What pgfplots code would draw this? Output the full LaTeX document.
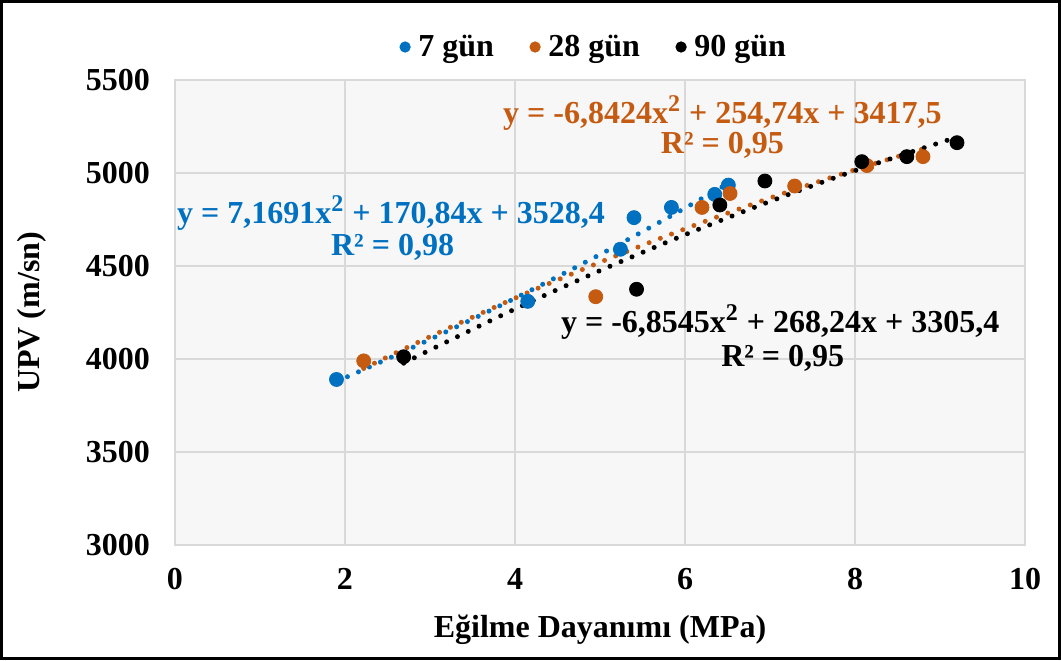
\documentclass[border=0pt]{standalone}
\usepackage{pgfplots}
\pgfplotsset{compat=1.18}
\usepackage{fontspec}
\setmainfont{Liberation Serif}
\definecolor{cblue}{HTML}{0070C0}
\definecolor{corange}{HTML}{C55A11}
\definecolor{gridc}{HTML}{D9D9D9}
\definecolor{bgc}{HTML}{F7F7F7}
\newcommand{\lblfont}{\bfseries\fontsize{16}{18}\selectfont}
\begin{document}
\begin{tikzpicture}
\path[use as bounding box] (-87.5pt,-57.5pt) rectangle (443pt,272.5pt);
\draw[line width=1.5pt] (-86.5pt,-56.5pt) rectangle (442pt,271.5pt);
\begin{axis}[
    scale only axis,
    width=425pt, height=232.5pt,
    xmin=0, xmax=10, ymin=3000, ymax=5500,
    xtick={0,2,...,10}, ytick={3000,3500,...,5500},
    grid=major, grid style={gridc, line width=0.8pt},
    axis line style={gridc, line width=0.8pt},
    major tick length=0pt,
    axis background/.style={fill=bgc},
    ticklabel style={font=\lblfont},
    yticklabel style={xshift=-9pt},
    xticklabel style={yshift=-8pt},
    /pgf/number format/assume math mode=true,
    /pgf/number format/1000 sep={},
    xlabel={Eğilme Dayanımı (MPa)},
    ylabel={UPV (m/sn)},
    label style={font=\lblfont},
    xlabel style={at={(axis description cs:0.5,-0.183)}, anchor=center},
    ylabel style={at={(axis description cs:-0.168,0.5)}, anchor=center},
    legend image post style={mark size=2.6pt},
    legend style={at={(0.494,1)}, anchor=center, yshift=16.5pt, legend columns=3,
        draw=none, fill=none, font=\lblfont,
        /tikz/every odd column/.append style={column sep=2pt},
        /tikz/every even column/.append style={column sep=16pt}},
]
\addplot[only marks, mark=*, mark size=3.5pt, color=cblue] coordinates {
    (1.90,3890) (4.15,4310) (5.24,4590) (5.40,4760) (5.84,4815) (6.35,4885) (6.51,4935)
};
\addlegendentry{7 gün}
\addplot[only marks, mark=*, mark size=3.5pt, color=corange] coordinates {
    (2.22,3990) (4.95,4335) (6.20,4815) (6.53,4890) (7.29,4930) (8.14,5040) (8.80,5088)
};
\addlegendentry{28 gün}
\addplot[only marks, mark=*, mark size=3.5pt, color=black] coordinates {
    (2.69,4012) (5.43,4375) (6.41,4828) (6.94,4957) (8.08,5061) (8.61,5088) (9.20,5163)
};
\addlegendentry{90 gün}
% trendlines (values from the displayed equations)
\addplot[forget plot, cblue, line width=2.5pt, line cap=round, dash pattern=on 0pt off 6pt, smooth] coordinates {
    (1.90,3878.9) (2.5,4000.3) (3,4105.4) (3.5,4214.2) (4,4326.5) (4.5,4442.4)
    (5,4561.8) (5.5,4684.9) (6,4811.5) (6.51,4944.4)
};
\addplot[forget plot, corange, line width=2.5pt, line cap=round, dash pattern=on 0pt off 6pt, smooth] coordinates {
    (2.22,3949.3) (3,4120.1) (4,4327.0) (5,4520.1) (6,4699.6) (7,4865.4) (8,5017.5) (8.80,5129.3)
};
\addplot[forget plot, black, line width=2.5pt, line cap=round, dash pattern=on 0pt off 6pt, smooth] coordinates {
    (2.69,3977.4) (3,4048.4) (4,4268.7) (5,4475.2) (6,4668.1) (7,4847.2) (8,5012.6) (9.20,5193.0)
};
\node[font=\lblfont, text=cblue] at (axis cs:2.54,4785) {y = 7,1691x\textsuperscript{\fontsize{12}{12}\selectfont 2} + 170,84x + 3528,4};
\node[font=\lblfont, text=cblue] at (axis cs:2.56,4602) {R² = 0,98};
\node[font=\lblfont, text=corange] at (axis cs:6.44,5323) {y = -6,8424x\textsuperscript{\fontsize{12}{12}\selectfont 2} + 254,74x + 3417,5};
\node[font=\lblfont, text=corange] at (axis cs:6.44,5150) {R² = 0,95};
\node[font=\lblfont, text=black] at (axis cs:7.12,4199) {y = -6,8545x\textsuperscript{\fontsize{12}{12}\selectfont 2} + 268,24x + 3305,4};
\node[font=\lblfont, text=black] at (axis cs:7.15,4005) {R² = 0,95};
\end{axis}
\end{tikzpicture}
\end{document}
